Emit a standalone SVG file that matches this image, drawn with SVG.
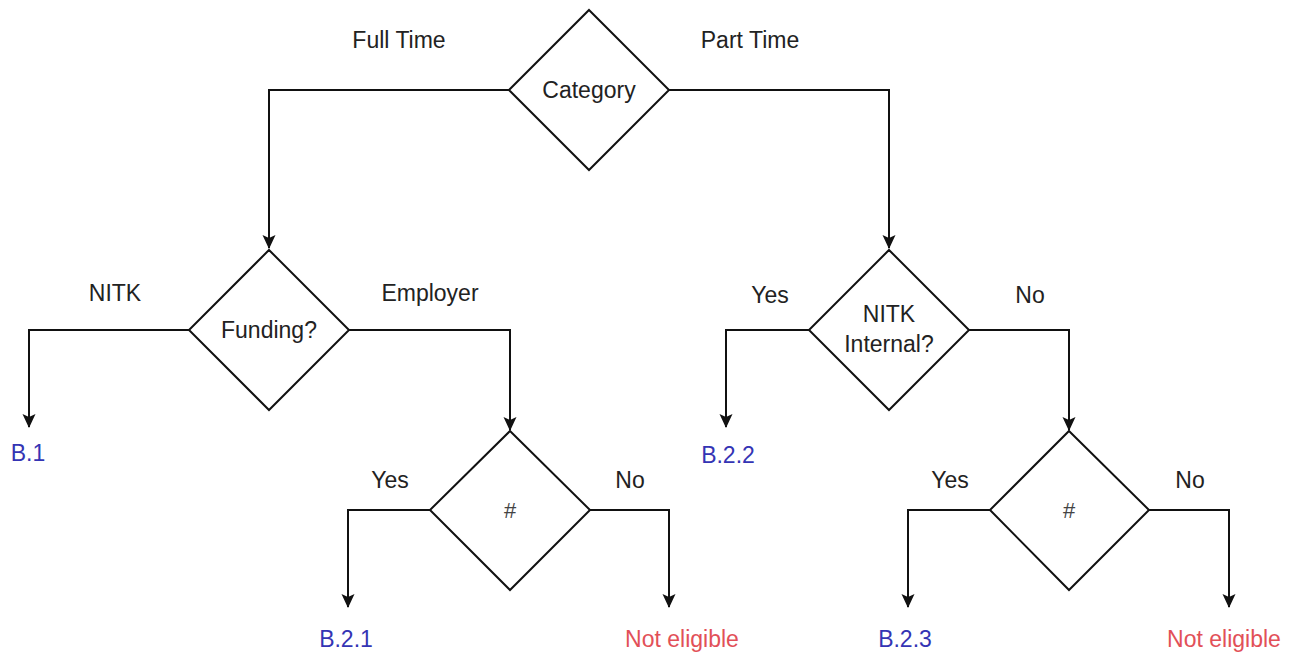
<svg xmlns="http://www.w3.org/2000/svg" width="1297" height="662" viewBox="0 0 1297 662">
  <style>
    .bg { fill: #ffffff; }
    .shape { fill: #ffffff; stroke: #111111; stroke-width: 2; }
    .edge { fill: none; stroke: #111111; stroke-width: 2; }
    .t { font-family: "Liberation Sans", Arial, Helvetica, sans-serif; font-size: 23px; fill: #222222; text-anchor: middle; }
    .hash { font-size: 22px; fill: #444444; }
    .ref { fill: #3434b4; }
    .no { fill: #e25058; }
  </style>
  <defs>
    <marker id="arrow" markerUnits="userSpaceOnUse" markerWidth="14" markerHeight="14" viewBox="0 0 14 14" refX="13" refY="7" orient="auto">
      <path d="M0,0.5 L14,7 L0,13.5 L3,7 Z" fill="#111111"/>
    </marker>
  </defs>
  <rect class="bg" x="0" y="0" width="1297" height="662"/>

  <g id="connectors">
    <path class="edge" d="M509 90 H269 V248" marker-end="url(#arrow)"/>
    <path class="edge" d="M669 90 H889 V248" marker-end="url(#arrow)"/>
    <path class="edge" d="M189 330 H29 V427" marker-end="url(#arrow)"/>
    <path class="edge" d="M349 330 H510 V430" marker-end="url(#arrow)"/>
    <path class="edge" d="M809 330 H726 V427" marker-end="url(#arrow)"/>
    <path class="edge" d="M969 330 H1069 V430" marker-end="url(#arrow)"/>
    <path class="edge" d="M430 510 H348 V607" marker-end="url(#arrow)"/>
    <path class="edge" d="M590 510 H669 V607" marker-end="url(#arrow)"/>
    <path class="edge" d="M990 510 H908 V607" marker-end="url(#arrow)"/>
    <path class="edge" d="M1149 510 H1229 V607" marker-end="url(#arrow)"/>
    <text class="t" x="399" y="48">Full Time</text>
    <text class="t" x="750" y="48">Part Time</text>
    <text class="t" x="115" y="301">NITK</text>
    <text class="t" x="430" y="301">Employer</text>
    <text class="t" x="770" y="303">Yes</text>
    <text class="t" x="1030" y="303">No</text>
    <text class="t" x="390" y="488">Yes</text>
    <text class="t" x="630" y="488">No</text>
    <text class="t" x="950" y="488">Yes</text>
    <text class="t" x="1190" y="488">No</text>
  </g>

  <g id="category">
    <polygon class="shape" points="589,10 669,90 589,170 509,90"/>
    <text class="t" x="589" y="98">Category</text>
  </g>
  <g id="funding">
    <polygon class="shape" points="269,250 349,330 269,410 189,330"/>
    <text class="t" x="269" y="338">Funding?</text>
  </g>
  <g id="nitk-internal">
    <polygon class="shape" points="889,250 969,330 889,410 809,330"/>
    <text class="t" x="889" y="322">NITK</text>
    <text class="t" x="889" y="352">Internal?</text>
  </g>
  <g id="check-left">
    <polygon class="shape" points="510,431 590,510 510,590 430,510"/>
    <text class="t hash" x="510" y="518">#</text>
  </g>
  <g id="check-right">
    <polygon class="shape" points="1069,431 1149,510 1069,590 990,510"/>
    <text class="t hash" x="1069" y="518">#</text>
  </g>
  <g id="b1">
    <text class="t ref" x="28" y="461">B.1</text>
  </g>
  <g id="b22">
    <text class="t ref" x="728" y="463">B.2.2</text>
  </g>
  <g id="b21">
    <text class="t ref" x="346" y="647">B.2.1</text>
  </g>
  <g id="not-eligible-left">
    <text class="t no" x="682" y="647">Not eligible</text>
  </g>
  <g id="b23">
    <text class="t ref" x="905" y="647">B.2.3</text>
  </g>
  <g id="not-eligible-right">
    <text class="t no" x="1224" y="647">Not eligible</text>
  </g>
</svg>
